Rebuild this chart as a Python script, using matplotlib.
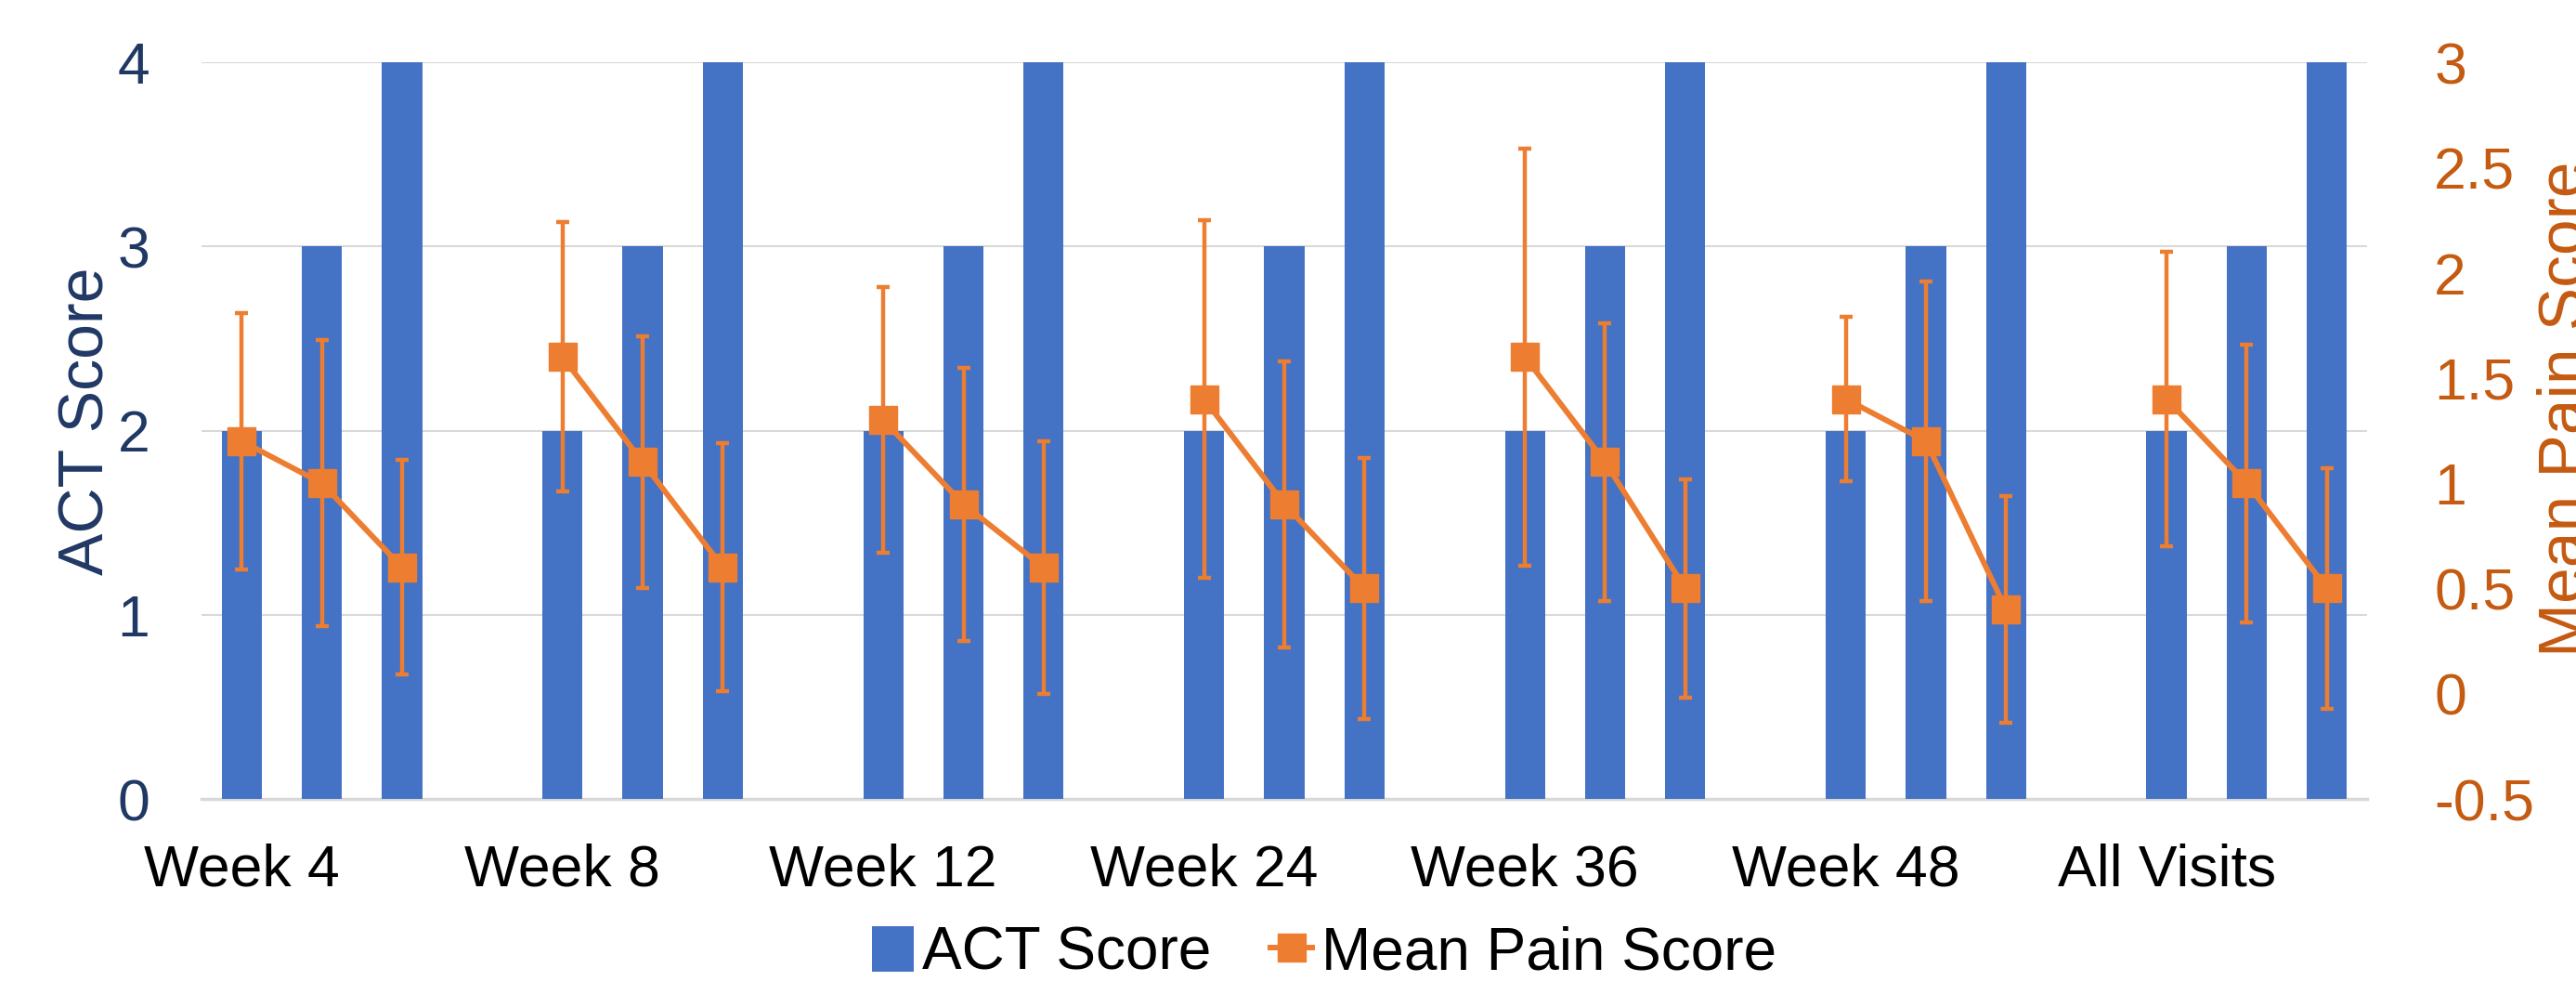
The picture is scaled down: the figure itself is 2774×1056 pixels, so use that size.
import matplotlib

matplotlib.use("Agg")
import matplotlib.pyplot as plt
import numpy as np
from matplotlib.lines import Line2D
from matplotlib.patches import Patch

plt.rcParams["font.family"] = ["Liberation Sans", "DejaVu Sans"]

# Colours
BLUE = "#4472C4"
ORANGE = "#ED7D31"
NAVY = "#203864"
RUST = "#C55A11"
GRID = "#D9D9D9"

# Data
groups = ["Week 4", "Week 8", "Week 12", "Week 24", "Week 36", "Week 48", "All Visits"]
act_scores = [
    [2, 3, 4],
    [2, 3, 4],
    [2, 3, 4],
    [2, 3, 4],
    [2, 3, 4],
    [2, 3, 4],
    [2, 3, 4],
]
pain_means = [
    [1.2, 1.0, 0.6],
    [1.6, 1.1, 0.6],
    [1.3, 0.9, 0.6],
    [1.4, 0.9, 0.5],
    [1.6, 1.1, 0.5],
    [1.4, 1.2, 0.4],
    [1.4, 1.0, 0.5],
]
pain_errors = [
    [0.61, 0.68, 0.51],
    [0.64, 0.60, 0.59],
    [0.63, 0.65, 0.60],
    [0.85, 0.68, 0.62],
    [0.99, 0.66, 0.52],
    [0.39, 0.76, 0.54],
    [0.70, 0.66, 0.57],
]

SLOTS = 4  # three bars plus one empty slot per group

fig = plt.figure(figsize=(27.74, 10.56), dpi=100)
ax = fig.add_axes([217 / 2774, 1 - 860 / 1056, (2549 - 217) / 2774, (860 - 67) / 1056])
ax2 = ax.twinx()

# Bars on the left axis
for g, vals in enumerate(act_scores):
    xs = g * SLOTS + np.arange(len(vals))
    ax.bar(xs, vals, width=0.5, color=BLUE, zorder=3)

# Pain line with error bars on the right axis (one segment per group)
for g, (means, errs) in enumerate(zip(pain_means, pain_errors)):
    xs = g * SLOTS + np.arange(len(means))
    ax2.errorbar(
        xs,
        means,
        yerr=errs,
        color=ORANGE,
        lw=4.3,
        marker="s",
        markersize=21,
        elinewidth=3.2,
        capsize=5,
        capthick=3.2,
        zorder=4,
    )

n_slots = len(groups) * SLOTS - 1
ax.set_xlim(-0.5, n_slots - 0.5)
ax.set_ylim(0, 4)
ax.set_yticks([0, 1, 2, 3, 4])
ax2.set_ylim(-0.5, 3)
ax2.set_yticks([-0.5, 0, 0.5, 1, 1.5, 2, 2.5, 3])
ax2.set_yticklabels(["-0.5", "0", "0.5", "1", "1.5", "2", "2.5", "3"])

ax.set_xticks([g * SLOTS for g in range(len(groups))])
ax.set_xticklabels(groups)

ax.grid(axis="y", color=GRID, lw=1.5, zorder=0)
ax.set_axisbelow(True)
for a in (ax, ax2):
    for s in a.spines.values():
        s.set_visible(False)
ax.spines["bottom"].set_visible(True)
ax.spines["bottom"].set_color(GRID)
ax.spines["bottom"].set_linewidth(2.5)

ax.tick_params(axis="x", length=0, labelsize=45, pad=34, labelcolor="black")
ax.tick_params(axis="y", length=0, labelsize=45, pad=40, labelcolor=NAVY)
ax2.tick_params(axis="y", length=0, labelsize=45, pad=52, labelcolor=RUST)
for lbl in ax2.get_yticklabels():
    lbl.set_horizontalalignment("left")

# Axis titles
fig.text(62 / 2774, 1 - 453 / 1056, "ACT Score", rotation=90, ha="left", va="center",
         fontsize=49, color=NAVY)
fig.text(2732 / 2774, 1 - 440 / 1056, "Mean Pain Score", rotation=90, ha="left", va="center",
         fontsize=50, color=RUST)

# Legend
handles = [
    Patch(facecolor=BLUE),
    Line2D([], [], color=ORANGE, lw=4.3, marker="s", markersize=21),
]
fig.legend(
    handles,
    ["ACT Score", "Mean Pain Score"],
    loc="center",
    bbox_to_anchor=(0.514, 0.028),
    ncol=2,
    frameon=False,
    fontsize=46,
    handlelength=0.7,
    handleheight=0.8,
    handletextpad=0.15,
    columnspacing=1.0,
)

fig.savefig("out.png", dpi=100)
